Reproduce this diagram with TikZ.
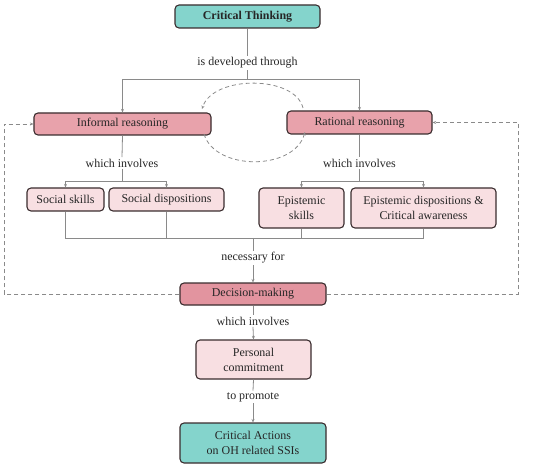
\documentclass[tikz,border=0pt]{standalone}
\usepackage{fontspec}
\setmainfont{Liberation Serif}
\usetikzlibrary{arrows.meta}
\definecolor{teal1}{HTML}{84D4CC}
\definecolor{pink1}{HTML}{E8A2AB}
\definecolor{pink2}{HTML}{E2949F}
\definecolor{pink3}{HTML}{F8DFE2}
\definecolor{bord}{HTML}{3A2C2E}
\definecolor{lin}{HTML}{8A8A8A}
\begin{document}
\begin{tikzpicture}[x=1bp,y=-1bp,
  box/.style={draw=bord,line width=1.1bp,rounded corners=4bp,align=center,inner sep=0pt,
    font=\fontsize{12}{15}\selectfont,text=black!85},
  lbl/.style={font=\fontsize{12}{14}\selectfont,inner sep=1.5bp,text=black!85},
  ln/.style={draw=lin,line width=0.8bp},
  arr/.style={ln,-{Stealth[length=3.5bp,width=3bp]}},
  dsh/.style={arr,dash pattern=on 4bp off 3bp}]
\useasboundingbox (0,0) rectangle (550,468);
% nodes
\node[box,fill=teal1,minimum width=145bp,minimum height=23bp,font=\fontsize{12}{15}\selectfont\bfseries] (ct) at (247.5,16.5) {Critical Thinking};
\node[lbl] (dev) at (247.5,63) {is developed through};
\node[box,fill=pink1,minimum width=177bp,minimum height=22bp] (inf) at (122.5,124) {Informal reasoning};
\node[box,fill=pink1,minimum width=145bp,minimum height=23bp] (rat) at (359.5,122.5) {Rational reasoning};
\node[lbl] (wi1) at (122,163) {which involves};
\node[lbl] (wi2) at (359.5,163) {which involves};
\node[box,fill=pink3,minimum width=77bp,minimum height=23bp] (ss) at (65.5,199.5) {Social skills};
\node[box,fill=pink3,minimum width=115bp,minimum height=23bp] (sd) at (166.5,199.5) {Social dispositions};
\node[box,fill=pink3,minimum width=85bp,minimum height=40bp] (es) at (301.5,208) {Epistemic\\skills};
\node[box,fill=pink3,minimum width=145bp,minimum height=40bp] (ed) at (423.5,208) {Epistemic dispositions \&\\Critical awareness};
\node[lbl] (nf) at (253,258) {necessary for};
\node[box,fill=pink2,minimum width=146bp,minimum height=22bp] (dm) at (253,294) {Decision-making};
\node[lbl] (wi3) at (253,321) {which involves};
\node[box,fill=pink3,minimum width=115bp,minimum height=39bp] (pc) at (253.5,359.5) {Personal\\commitment};
\node[lbl] (tp) at (253,397) {to promote};
\node[box,fill=teal1,minimum width=146bp,minimum height=40bp] (ca) at (253,443) {Critical Actions\\on OH related SSIs};
% junctions
\coordinate (j1) at (247.5,79);
\coordinate (j2) at (122,181);
\coordinate (j2r) at (359.5,181);
\coordinate (j3) at (253,238);
\coordinate (lx) at (4,294);
\coordinate (rx) at (518,294);
\coordinate (c1) at (303,108);
\coordinate (c2) at (202,109);
\coordinate (c3) at (204,134);
\coordinate (c4) at (305,132);
% connectors
\draw[ln] (ct.south) -- (dev.north);
\draw[arr] (dev.south) -- (j1) -| (inf.north);
\draw[arr] (j1) -| (rat.north);
\draw[ln] (inf.south) -- (wi1.north);
\draw[ln] (wi1.south) -- (j2);
\draw[arr] (j2) -| (ss.north);
\draw[arr] (j2) -| (sd.north);
\draw[ln] (rat.south) -- (wi2.north);
\draw[ln] (wi2.south) -- (j2r);
\draw[arr] (j2r) -| (es.north);
\draw[arr] (j2r) -| (ed.north);
\draw[ln] (ss.south) |- (j3);
\draw[ln] (sd.south) |- (j3);
\draw[ln] (es.south) |- (j3);
\draw[ln] (ed.south) |- (j3);
\draw[ln] (j3) -- (nf.north);
\draw[arr] (nf.south) -- (dm.north);
\draw[ln] (dm.south) -- (wi3.north);
\draw[arr] (wi3.south) -- (pc.north);
\draw[ln] (pc.south) -- (tp.north);
\draw[arr] (tp.south) -- (ca.north);
% dashed loops
\draw[dsh] (dm.west) -- (lx) |- (inf.west);
\draw[dsh] (dm.east) -- (rx) |- (rat.east);
\draw[dsh] (c1) .. controls (295,75) and (213,75) .. (c2);
\draw[dsh] (c3) .. controls (215,171) and (294,171) .. (c4);
\end{tikzpicture}
\end{document}
